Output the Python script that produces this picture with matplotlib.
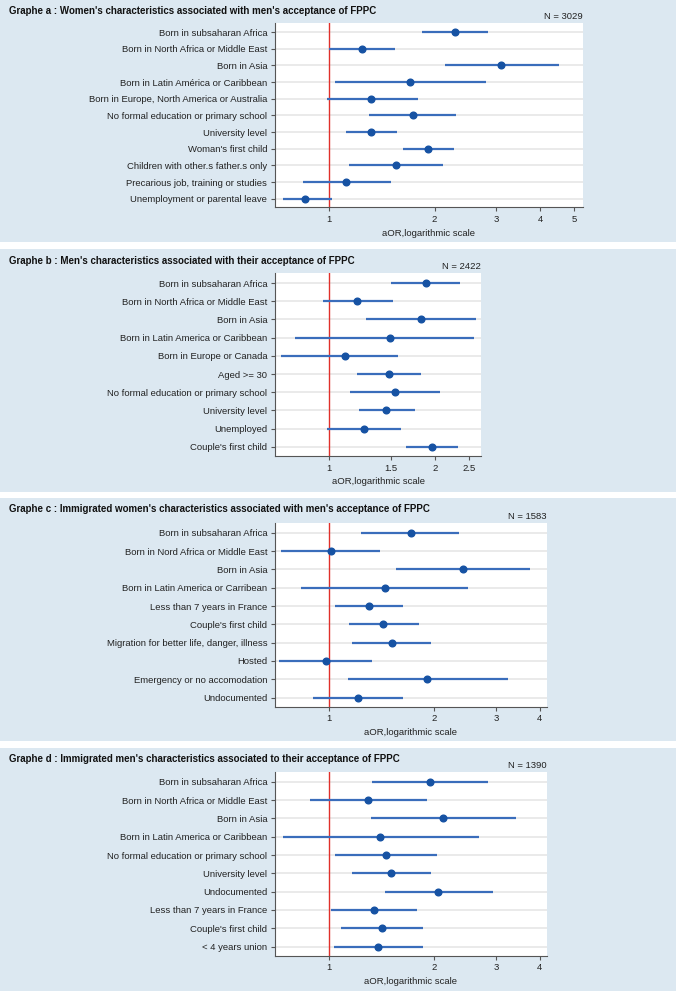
import matplotlib
matplotlib.use("Agg")
import matplotlib.pyplot as plt
from matplotlib.patches import Rectangle
from matplotlib import font_manager

# ---------------- data ----------------
labels_a = ["Born in subsaharan Africa", "Born in North Africa or Middle East", "Born in Asia",
            "Born in Latin América or Caribbean", "Born in Europe, North America or Australia",
            "No formal education or primary school", "University level", "Woman's first child",
            "Children with other.s father.s only", "Precarious job, training or studies",
            "Unemployment or parental leave"]
or_a = [2.29, 1.24, 3.10, 1.70, 1.32, 1.74, 1.32, 1.92, 1.55, 1.12, 0.853]
lo_a = [1.84, 1.00, 2.14, 1.04, 0.983, 1.30, 1.12, 1.63, 1.14, 0.844, 0.739]
hi_a = [2.84, 1.54, 4.54, 2.80, 1.79, 2.31, 1.56, 2.27, 2.12, 1.50, 1.02]

labels_b = ["Born in subsaharan Africa", "Born in North Africa or Middle East", "Born in Asia",
            "Born in Latin America or Caribbean", "Born in Europe or Canada", "Aged >= 30",
            "No formal education or primary school", "University level", "Unemployed",
            "Couple's first child"]
or_b = [1.88, 1.20, 1.82, 1.49, 1.11, 1.48, 1.54, 1.45, 1.26, 1.96]
lo_b = [1.50, 0.961, 1.27, 0.80, 0.732, 1.20, 1.15, 1.22, 0.986, 1.65]
hi_b = [2.36, 1.52, 2.61, 2.58, 1.57, 1.83, 2.06, 1.75, 1.60, 2.33]

labels_c = ["Born in subsaharan Africa", "Born in Nord Africa or Middle East", "Born in Asia",
            "Born in Latin America or Carribean", "Less than 7 years in France",
            "Couple's first child", "Migration for better life, danger, illness", "Hosted",
            "Emergency or no accomodation", "Undocumented"]
or_c = [1.71, 1.01, 2.41, 1.44, 1.30, 1.43, 1.51, 0.98, 1.91, 1.21]
lo_c = [1.23, 0.729, 1.55, 0.832, 1.04, 1.14, 1.16, 0.72, 1.13, 0.898]
hi_c = [2.36, 1.40, 3.76, 2.50, 1.63, 1.81, 1.96, 1.33, 3.25, 1.63]

labels_d = ["Born in subsaharan Africa", "Born in North Africa or Middle East", "Born in Asia",
            "Born in Latin America or Caribbean", "No formal education or primary school",
            "University level", "Undocumented", "Less than 7 years in France",
            "Couple's first child", "< 4 years union"]
or_d = [1.94, 1.29, 2.12, 1.40, 1.45, 1.50, 2.05, 1.34, 1.42, 1.38]
lo_d = [1.33, 0.883, 1.32, 0.737, 1.04, 1.16, 1.44, 1.01, 1.08, 1.03]
hi_d = [2.85, 1.90, 3.42, 2.69, 2.03, 1.95, 2.94, 1.78, 1.86, 1.85]

titles = ["Graphe a : Women's characteristics associated with men's acceptance of FPPC",
          "Graphe b : Men's characteristics associated with their acceptance of FPPC",
          "Graphe c : Immigrated women's characteristics associated with men's acceptance of FPPC",
          "Graphe d : Immigrated men's characteristics associated to their acceptance of FPPC"]
n_labels = ["N = 3029", "N = 2422", "N = 1583", "N = 1390"]
xticks_a = [1, 2, 3, 4, 5]
xticks_b = [1, 1.5, 2, 2.5]
xticks_c = [1, 2, 3, 4]
xticks_d = [1, 2, 3, 4]
xlabel = "aOR,logarithmic scale"

# ---------------- style ----------------
W, H = 676, 991
names = {f.name for f in font_manager.fontManager.ttflist}
fam = "Liberation Sans Narrow" if "Liberation Sans Narrow" in names else "Liberation Sans"
plt.rcParams["font.family"] = [fam, "DejaVu Sans"]

BG = "#dce8f1"
LINE = "#3a6dbb"
DOT = "#1652a3"
RED = "#e0302a"
GRID = "#e4e4e4"
FS = 6.8
TFS = 7.0

fig = plt.figure(figsize=(W / 100, H / 100), dpi=100, facecolor="white")


def fx(x):
    return x / W


def fy(y):
    return 1 - y / H


# panel backgrounds (pixel ranges)
bg_ranges = [(0, 242), (249, 492), (498, 741), (748, 991)]
for (y0, y1) in bg_ranges:
    fig.patches.append(Rectangle((0, fy(y1)), 1, (y1 - y0) / H, transform=fig.transFigure,
                                 facecolor=BG, edgecolor="none", zorder=-10))

panels = [
    (labels_a, or_a, lo_a, hi_a, xticks_a, (0.70, 5.31), (275, 583, 23, 207), 10.7),
    (labels_b, or_b, lo_b, hi_b, xticks_b, (0.703, 2.70), (275, 481, 273, 456), 260.7),
    (labels_c, or_c, lo_c, hi_c, xticks_c, (0.70, 4.20), (275, 547, 522.7, 706.7), 509.3),
    (labels_d, or_d, lo_d, hi_d, xticks_d, (0.70, 4.20), (275, 547, 771.7, 955.7), 759.0),
]

for i, (labs, ors, los, his, xt, xl, (l, r, t, b), ty) in enumerate(panels):
    ax = fig.add_axes([fx(l), fy(b), (r - l) / W, (b - t) / H])
    ax.set_zorder(1)
    ax.set_facecolor("white")
    n = len(labs)
    ys = list(range(n))
    ax.set_xscale("log")
    ax.set_xlim(*xl)
    ax.set_ylim(n - 1 + 0.5, -0.55)
    for yy in ys:
        ax.axhline(yy, color=GRID, lw=1.1, zorder=1)
    ax.axvline(1, color=RED, lw=1.0, zorder=2)
    ax.hlines(ys, los, his, color=LINE, lw=1.6, zorder=3)
    ax.plot(ors, ys, "o", color=DOT, ms=4.8, zorder=4, mec=DOT)
    ax.set_yticks(ys)
    ax.set_yticklabels(labs, fontsize=FS, color="#222222")
    ax.set_xticks(xt)
    ax.set_xticklabels([("%g" % v) for v in xt], fontsize=FS, color="#222222")
    ax.minorticks_off()
    ax.tick_params(axis="both", length=3, width=0.8, color="#555555", pad=2.5)
    for s in ["top", "right"]:
        ax.spines[s].set_visible(False)
    for s in ["left", "bottom"]:
        ax.spines[s].set_color("#555555")
        ax.spines[s].set_linewidth(0.8)
    ax.set_xlabel(xlabel, fontsize=FS, color="#222222", labelpad=3.5)
    fig.text(fx(9), fy(ty), titles[i], fontsize=TFS, fontweight="bold", color="#111111",
             ha="left", va="center")
    fig.text(fx(r), fy(t - 6.5), n_labels[i], fontsize=FS, color="#222222",
             ha="right", va="center")

fig.savefig("out.png", dpi=100, facecolor="white")
